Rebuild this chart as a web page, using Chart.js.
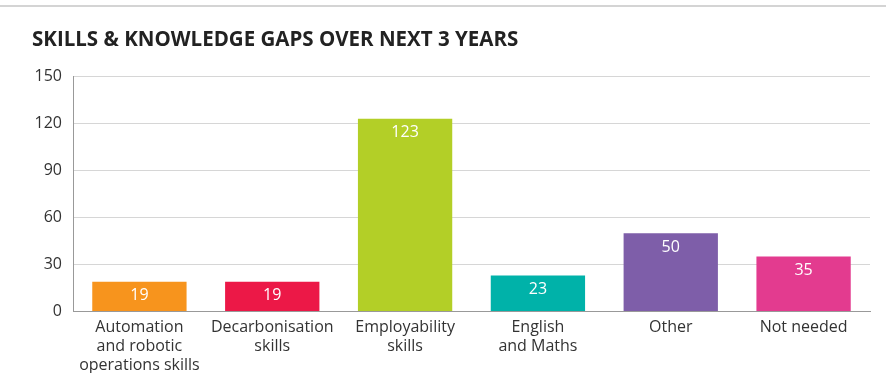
<!DOCTYPE html>
<html>
<head>
<meta charset="utf-8">
<script src="https://cdn.jsdelivr.net/npm/chart.js@4"></script>
<style>
  html, body { margin: 0; padding: 0; background: #fff; }
  .wrap { width: 886px; height: 392px; position: relative; }
  .wrap:before { content: ''; position: absolute; left: 0; right: 0; top: 5px; height: 2px; background: #d4d4d4; }
</style>
</head>
<body>
<div class="wrap"><canvas id="barChart" width="886" height="392"></canvas></div>
<script>
// data
const categories = [
  ['Automation', 'and robotic', 'operations skills'],
  ['Decarbonisation', 'skills'],
  ['Employability', 'skills'],
  ['English', 'and Maths'],
  'Other',
  'Not needed'
];
const counts = [19, 19, 123, 23, 50, 35];
const barColors = ['#f7941d', '#ec1847', '#b3cf27', '#00b2a9', '#7e5ea9', '#e33b8f'];
const yTicks = [0, 30, 60, 90, 120, 150];

const FONT = '"Open Sans", "Noto Sans", sans-serif';

// white value labels near the top of each bar
const valueLabels = {
  id: 'valueLabels',
  afterDatasetsDraw(chart) {
    const ctx = chart.ctx;
    const meta = chart.getDatasetMeta(0);
    ctx.save();
    ctx.fillStyle = '#ffffff';
    ctx.font = '16px ' + FONT;
    ctx.textAlign = 'center';
    ctx.textBaseline = 'middle';
    meta.data.forEach((bar, i) => {
      ctx.fillText(String(counts[i]), bar.x, bar.y + 14);
    });
    ctx.restore();
  }
};

const ctx = document.getElementById('barChart').getContext('2d');
new Chart(ctx, {
  type: 'bar',
  data: {
    labels: categories,
    datasets: [{
      data: counts,
      backgroundColor: barColors,
      borderWidth: 0,
      categoryPercentage: 1,
      barPercentage: 0.71
    }]
  },
  options: {
    responsive: false,
    animation: false,
    layout: {
      padding: { left: 32, right: 16, top: 28, bottom: 19 }
    },
    plugins: {
      legend: { display: false },
      tooltip: { enabled: false },
      title: {
        display: true,
        text: 'SKILLS & KNOWLEDGE GAPS OVER NEXT 3 YEARS',
        align: 'start',
        color: '#222',
        font: { family: FONT, size: 20.5, weight: 'bold' },
        padding: { top: 0, bottom: 24 }
      }
    },
    scales: {
      x: {
        grid: { display: false },
        border: { display: true, color: '#999', width: 1 },
        ticks: {
          color: '#333',
          font: { family: FONT, size: 16, lineHeight: 1.2 },
          padding: -2,
          maxRotation: 0,
          autoSkip: false
        }
      },
      y: {
        min: 0,
        max: 150,
        afterBuildTicks: (axis) => {
          axis.ticks = yTicks.map(v => ({ value: v }));
        },
        afterFit: (axis) => {
          axis.width = 41;
        },
        grid: {
          color: (c) => c.tick && c.tick.value === 0 ? '#999' : '#d6d6d6',
          drawTicks: false
        },
        border: { display: true, color: '#999', width: 1 },
        ticks: {
          color: '#333',
          font: { family: FONT, size: 16 },
          padding: 11
        }
      }
    }
  },
  plugins: [valueLabels]
});
</script>
</body>
</html>
